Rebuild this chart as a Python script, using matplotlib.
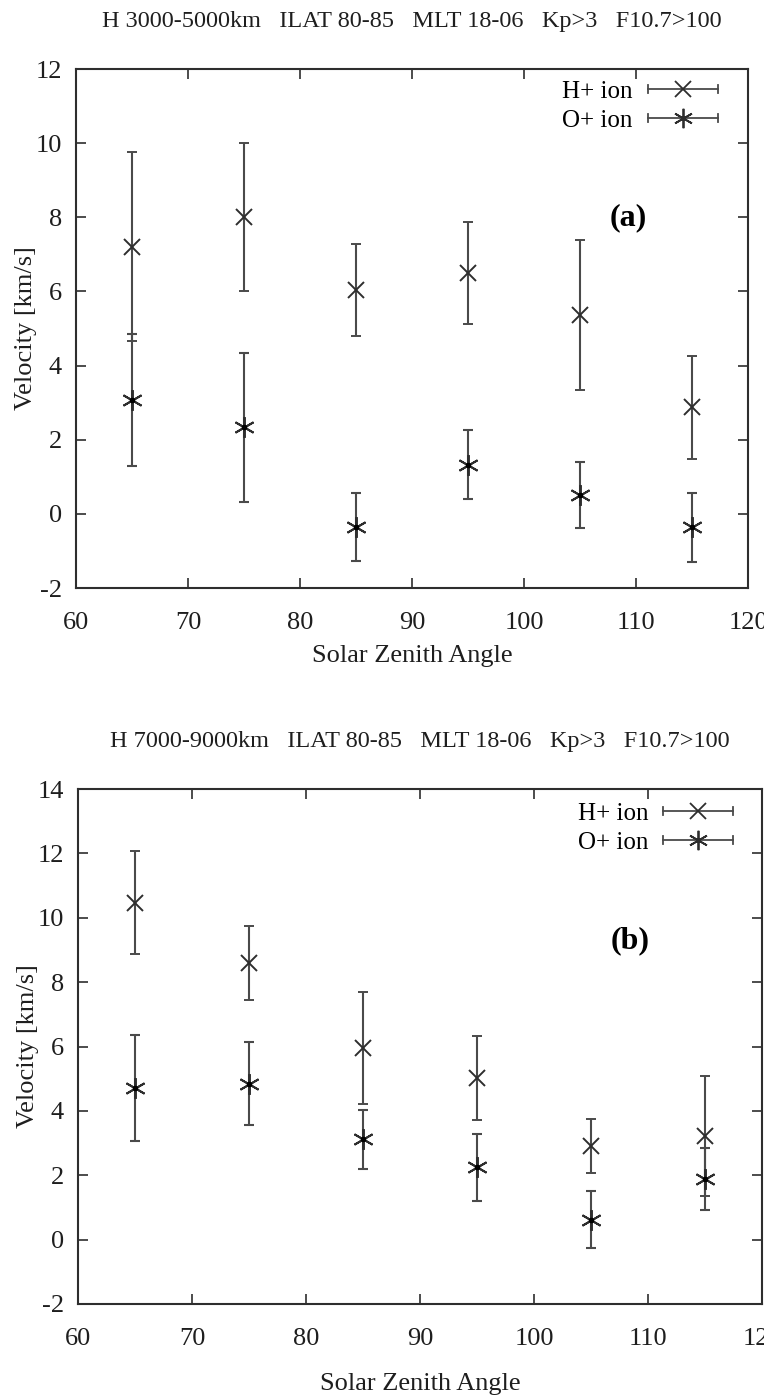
import matplotlib
matplotlib.use('Agg')
import matplotlib.pyplot as plt
from matplotlib.lines import Line2D
from matplotlib.legend_handler import HandlerBase

# ---------------- data ----------------
sza = [65, 75, 85, 95, 105, 115]

# panel (a)  H 3000-5000 km
a_h_vel = [7.20, 8.00, 6.05, 6.50, 5.37, 2.87]
a_h_err = [2.55, 2.00, 1.24, 1.38, 2.03, 1.40]
a_o_vel = [3.07, 2.33, -0.35, 1.32, 0.51, -0.36]
a_o_err = [1.77, 2.00, 0.91, 0.93, 0.90, 0.93]

# panel (b)  H 7000-9000 km
b_h_vel = [10.47, 8.60, 5.95, 5.03, 2.91, 3.21]
b_h_err = [1.61, 1.15, 1.74, 1.30, 0.85, 1.86]
b_o_vel = [4.72, 4.84, 3.12, 2.25, 0.62, 1.88]
b_o_err = [1.65, 1.29, 0.92, 1.04, 0.88, 0.96]

x_ticks = [60, 70, 80, 90, 100, 110, 120]
a_yticks = [-2, 0, 2, 4, 6, 8, 10, 12]
b_yticks = [-2, 0, 2, 4, 6, 8, 10, 12, 14]

titles = ["H 3000-5000km   ILAT 80-85   MLT 18-06   Kp>3   F10.7>100",
          "H 7000-9000km   ILAT 80-85   MLT 18-06   Kp>3   F10.7>100"]
series_labels = ["H+ ion", "O+ ion"]
panel_tags = ["(a)", "(b)"]

# ---------------- style ----------------
plt.rcParams['font.family'] = ['Liberation Serif', 'DejaVu Serif']
plt.rcParams['axes.unicode_minus'] = False
INK = '#2e2e2e'
BAR = '#4a4a4a'
TXT = '#1e1e1e'
H_MARK = 'x'
O_MARK = (6, 2, 0)


class GnuErrHandler(HandlerBase):
    """gnuplot-like key sample: |---marker---|"""
    def __init__(self, marker, ms):
        super().__init__()
        self.marker = marker
        self.ms = ms

    def create_artists(self, legend, orig_handle, xdescent, ydescent,
                       width, height, fontsize, trans):
        y = height / 2 - ydescent
        x0, x1 = -xdescent, width - xdescent
        cap = 3.0
        arts = [Line2D([x0, x1], [y, y], color=BAR, lw=1.3),
                Line2D([x0, x0], [y - cap, y + cap], color=BAR, lw=1.3),
                Line2D([x1, x1], [y - cap, y + cap], color=BAR, lw=1.3),
                Line2D([(x0 + x1) / 2], [y], color=INK, marker=self.marker,
                       ms=self.ms, mew=1.3, ls='none')]
        for a in arts:
            a.set_transform(trans)
        return arts


fig = plt.figure(figsize=(7.64, 13.99), dpi=100)
W, H = 764, 1399

def axes_px(l, r, t, b):
    return fig.add_axes([l / W, 1 - b / H, (r - l) / W, (b - t) / H])

ax_a = axes_px(76, 748, 69, 588)
ax_b = axes_px(78, 762, 789, 1304)

panels = [
    (ax_a, a_h_vel, a_h_err, a_o_vel, a_o_err, a_yticks, (109.3, 8.0), (0.955, 0.978), 8),
    (ax_b, b_h_vel, b_h_err, b_o_vel, b_o_err, b_yticks, (108.4, 9.3), (0.958, 0.974), 17),
]

for i, (ax, hv, he, ov, oe, yt, tagpos, legpos, xlpad) in enumerate(panels):
    eh = ax.errorbar(sza, hv, yerr=he, fmt=H_MARK, ms=12, mew=1.4, color=INK,
                     ecolor=BAR, elinewidth=1.5, capsize=3.5, capthick=1.5,
                     label=series_labels[0])
    eo = ax.errorbar(sza, ov, yerr=oe, fmt='none', color=INK,
                     ecolor=BAR, elinewidth=1.5, capsize=3.5, capthick=1.5)
    ax.plot(sza, ov, ls='none', marker=O_MARK, ms=15, mew=1.4, color=INK)
    ax.plot(sza, ov, ls='none', marker='o', ms=3, color='black')

    ax.set_xlim(x_ticks[0], x_ticks[-1])
    ax.set_ylim(yt[0], yt[-1])
    ax.set_xticks(x_ticks)
    ax.set_yticks(yt)
    ax.tick_params(direction='in', length=7, width=1.2, color=INK,
                   top=True, right=True, labelsize=19, labelcolor=TXT)
    ax.tick_params(axis='x', pad=17)
    ax.tick_params(axis='y', pad=10)
    for s in ax.spines.values():
        s.set_color(INK)
        s.set_linewidth(1.5)

    ax.set_xlabel("Solar Zenith Angle", fontsize=19, color=TXT, labelpad=xlpad)
    ax.set_ylabel("Velocity [km/s]", fontsize=19, color=TXT)
    ax.set_title(titles[i], fontsize=17.5, color=TXT, pad=30)

    ax.text(tagpos[0], tagpos[1], panel_tags[i], fontsize=23, fontweight='bold',
            ha='center', va='center', color='black')

    ax.legend([eh, eo], series_labels,
              handler_map={eh: GnuErrHandler(H_MARK, 12), eo: GnuErrHandler(O_MARK, 14)},
              loc='upper right', bbox_to_anchor=legpos, frameon=False,
              markerfirst=False, fontsize=18, handlelength=2.8,
              handletextpad=0.6, labelspacing=0.25, borderpad=0, borderaxespad=0)

ax_a.yaxis.set_label_coords(-0.058, 0.5)
ax_b.yaxis.set_label_coords(-0.057, 0.5)

fig.savefig('out.png', dpi=100)
